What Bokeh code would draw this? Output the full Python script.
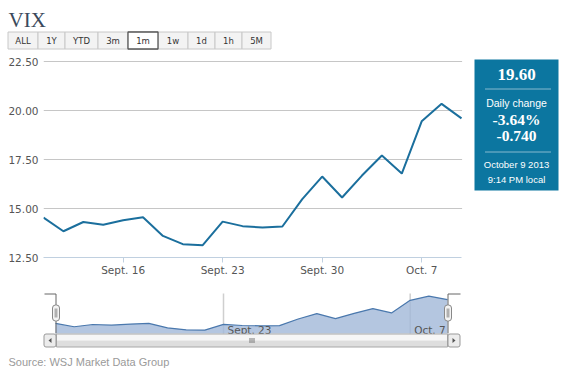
from bokeh.plotting import figure
from bokeh.layouts import column, row
from bokeh.models import Range1d, FixedTicker, NumeralTickFormatter
from bokeh.embed import file_html
from bokeh.resources import INLINE
from bokeh.core.properties import value

# ---------------- data ----------------
dates = ["Sept. 10", "Sept. 11", "Sept. 12", "Sept. 13", "Sept. 16", "Sept. 17",
         "Sept. 18", "Sept. 19", "Sept. 20", "Sept. 23", "Sept. 24", "Sept. 25",
         "Sept. 26", "Sept. 27", "Sept. 30", "Oct. 1", "Oct. 2", "Oct. 3",
         "Oct. 4", "Oct. 7", "Oct. 8", "Oct. 9"]
vix = [14.54, 13.84, 14.31, 14.17, 14.40, 14.55, 13.60, 13.18, 13.13, 14.33,
       14.10, 14.03, 14.08, 15.48, 16.63, 15.56, 16.68, 17.70, 16.78, 19.45,
       20.34, 19.60]
tick_dates = ["Sept. 16", "Sept. 23", "Sept. 30", "Oct. 7"]
nav_dates = ["Sept. 23", "Oct. 7"]
y_ticks = [12.5, 15.0, 17.5, 20.0, 22.5]
nav_y_range = [12.4, 20.9]
buttons = ["ALL", "1Y", "YTD", "3m", "1m", "1w", "1d", "1h", "5M"]
selected = "1m"
title_text = "VIX"
change_label = "Daily change"
stamp_date = "October 9 2013"
stamp_time = "9:14 PM local"
source_text = "Source: WSJ Market Data Group"

idx = list(range(len(dates)))
n1 = len(dates) - 1
last = vix[-1]
chg = vix[-1] - vix[-2]
pct = chg / vix[-2] * 100

SANS = "DejaVu Sans"
ARIAL = "Liberation Sans"
SERIF = "Liberation Serif"
W = 564


def canvas(w, h):
    p = figure(width=w, height=h, x_range=Range1d(0, w), y_range=Range1d(h, 0),
               output_backend="svg", toolbar_location=None, min_border=0,
               x_axis_type=None, y_axis_type=None)
    p.grid.visible = False
    p.outline_line_color = None
    p.background_fill_color = "white"
    p.border_fill_color = "white"
    return p


# ---------------- header ----------------
header = canvas(W, 53)
header.text(x=[8], y=[19], text=[title_text], text_font=value(SERIF),
            text_font_size=value("21px"), text_color="#3a4a5c",
            text_baseline="alphabetic", text_align="left")
edges = [7.5, 37.5, 64.5, 97.5, 127.5, 157.5, 187.5, 214.5, 241.5, 270.5]
lefts = edges[:-1]
rights = edges[1:]
sel = buttons.index(selected)
header.quad(left=lefts, right=rights, top=31.5, bottom=48.5,
            fill_color="#f3f3f3", line_color="#c8c8c8", line_width=1)
header.quad(left=[lefts[sel]], right=[rights[sel]], top=31.5, bottom=48.5,
            fill_color="white", line_color="#555555", line_width=1.3)
header.text(x=[(a + b) / 2 for a, b in zip(lefts, rights)], y=[40] * len(buttons),
            text=buttons, text_font=value(SANS), text_font_size=value("8.5px"),
            text_color="#333333", text_align="center", text_baseline="middle")

# ---------------- main chart (with info box in its right margin) ----------------
MH = 232
F_L, F_T, F_B = 43, 53, 257          # frame edges in page pixels
D_R, Y_TOP = 461, 61                  # where the last point / top tick sit
ppi = (D_R - F_L) / n1
ppu = (F_B - Y_TOP) / (y_ticks[-1] - y_ticks[0])
x_end = n1 + (W - D_R) / ppi
y_end = y_ticks[-1] + (Y_TOP - F_T) / ppu

main = figure(width=W, height=MH, x_range=Range1d(0, x_end),
              y_range=Range1d(y_ticks[0], y_end), output_backend="svg",
              toolbar_location=None, min_border_left=F_L, min_border_right=0,
              min_border_top=0, min_border_bottom=F_T + MH - F_B)
main.outline_line_color = None
main.background_fill_color = "white"
main.border_fill_color = "white"
main.xgrid.visible = False
main.ygrid.ticker = FixedTicker(ticks=y_ticks)
main.ygrid.grid_line_color = "#c6c6c6"

ya = main.yaxis[0]
ya.ticker = FixedTicker(ticks=y_ticks)
ya.formatter = NumeralTickFormatter(format="0.00")
ya.axis_line_color = None
ya.major_tick_line_color = None
ya.minor_tick_line_color = None
ya.major_tick_out = 0
ya.major_tick_in = 0
ya.major_label_standoff = 5
ya.major_label_text_font = SANS
ya.major_label_text_font_size = "10.5px"
ya.major_label_text_color = "#555555"

xa = main.xaxis[0]
tick_pos = [dates.index(d) for d in tick_dates]
xa.ticker = FixedTicker(ticks=tick_pos)
xa.major_label_overrides = {i: d for i, d in zip(tick_pos, tick_dates)}
xa.bounds = (0, n1)
xa.axis_line_color = "#c0d0e0"
xa.major_tick_line_color = "#c0d0e0"
xa.minor_tick_line_color = None
xa.major_tick_out = 5
xa.major_tick_in = 0
xa.major_label_standoff = 1
xa.major_label_text_font = SANS
xa.major_label_text_font_size = "10.5px"
xa.major_label_text_color = "#555555"

# blank the grid to the right of the last point
main.quad(left=[n1 + 0.03], right=[x_end + 1], bottom=[y_ticks[0] - 2],
          top=[y_end + 1], fill_color="white", line_color=None)
main.line(idx, vix, line_color="#1b6f9d", line_width=2)

# info box drawn in page-pixel coordinates
main.extra_x_ranges = {"px": Range1d(F_L, W)}
main.extra_y_ranges = {"py": Range1d(F_B, F_T)}
PX = dict(x_range_name="px", y_range_name="py")
main.quad(left=[474], right=[558], top=[59], bottom=[190], fill_color="#0c76a0",
          line_color=None, **PX)
main.segment(x0=[485, 485], y0=[88.5, 151.5], x1=[550, 550], y1=[88.5, 151.5],
             line_color="white", line_dash="1 1", line_width=1, **PX)
main.text(x=[516], y=[74], text=["%.2f" % last], text_font=value(SERIF),
          text_font_style="bold", text_font_size=value("17px"),
          text_color="white", text_align="center", text_baseline="middle", **PX)
main.text(x=[516], y=[102], text=[change_label], text_font=value(ARIAL),
          text_font_size=value("10.5px"), text_color="white",
          text_align="center", text_baseline="middle", **PX)
main.text(x=[516, 516], y=[119, 135], text=["%.2f%%" % pct, "%.3f" % chg],
          text_font=value(SERIF), text_font_style="bold",
          text_font_size=value("15.5px"), text_color="white",
          text_align="center", text_baseline="middle", **PX)
main.text(x=[516, 516], y=[163.5, 178.5], text=[stamp_date, stamp_time],
          text_font=value(ARIAL), text_font_size=value("9.5px"),
          text_color="white", text_align="center", text_baseline="middle", **PX)

# ---------------- navigator ----------------
NH = 65
nav = canvas(W, NH)
NAV_L, NAV_R, NAV_T, NAV_B = 55, 447, 8, 48
ipp = n1 / (NAV_R - NAV_L)
ylo, yhi = nav_y_range
upp = (yhi - ylo) / (NAV_B - NAV_T)
nav.extra_x_ranges = {"nx": Range1d(-NAV_L * ipp, n1 + (W - NAV_R) * ipp)}
nav.extra_y_ranges = {"ny": Range1d(ylo - (NH - NAV_B) * upp, yhi + NAV_T * upp)}

nav_pos = [dates.index(d) for d in nav_dates]
nav.segment(x0=nav_pos, y0=ylo, x1=nav_pos, y1=yhi, line_color="#cfcfcf",
            line_width=1.5, x_range_name="nx", y_range_name="ny")
nav.varea(x=idx, y1=ylo, y2=vix, fill_color="#a1b8d8", fill_alpha=0.8,
          x_range_name="nx", y_range_name="ny")
nav.line(idx, vix, line_color="#4a78ad", line_width=1.2,
         x_range_name="nx", y_range_name="ny")
nav.text(x=nav_pos, y=[ylo] * len(nav_pos), text=nav_dates, x_offset=4,
         y_offset=-4, text_font=value(SANS), text_font_size=value("10.5px"),
         text_color="#555555", text_align="left", text_baseline="alphabetic",
         x_range_name="nx", y_range_name="ny")

# handles (decoration)
nav.line(x=[44, 55.5, 55.5], y=[8.5, 8.5, 48], line_color="#666666", line_width=1)
nav.line(x=[460, 447.5, 447.5], y=[8.5, 8.5, 48], line_color="#666666", line_width=1)
nav.quad(left=[52, 444], right=[59, 451], top=[19.5, 19.5],
         bottom=[35.5, 35.5], fill_color="#f4f4f4", line_color="#888888",
         line_width=1, border_radius=3)
nav.quad(left=[54, 446], right=[57, 449], top=[23, 23], bottom=[32, 32],
         fill_color="#b0b0b0", line_color=None)

# scrollbar (decoration)
nav.quad(left=[56], right=[447], top=[48.5], bottom=[55], fill_color="#f6f6f6",
         line_color=None)
nav.quad(left=[56], right=[447], top=[55], bottom=[61.5], fill_color="#dedede",
         line_color=None)
nav.quad(left=[56], right=[447], top=[48.5], bottom=[61.5], fill_color=None,
         line_color="#a8a8a8", line_width=1)
nav.quad(left=[43.5, 447.5], right=[55.5, 459.5], top=[48.5, 48.5],
         bottom=[61.5, 61.5], fill_color="#ececec", line_color="#999999",
         line_width=1, border_radius=2)
nav.patches(xs=[[48, 51, 51], [455, 452, 452]],
            ys=[[55, 52.5, 57.5], [55, 52.5, 57.5]],
            fill_color="#555555", line_color=None)
nav.segment(x0=[249.5, 251.5, 253.5], y0=[52.5] * 3, x1=[249.5, 251.5, 253.5],
            y1=[57.5] * 3, line_color="#777777", line_width=1)

# ---------------- footer ----------------
foot = canvas(W, 27)
foot.text(x=[8], y=[11], text=[source_text], text_font=value(ARIAL),
          text_font_size=value("11px"), text_color="#9a9a9a",
          text_align="left", text_baseline="middle")

layout = column(header, row(main, spacing=0), nav, foot, spacing=0)
open("out.html", "w").write(file_html(layout, INLINE))
